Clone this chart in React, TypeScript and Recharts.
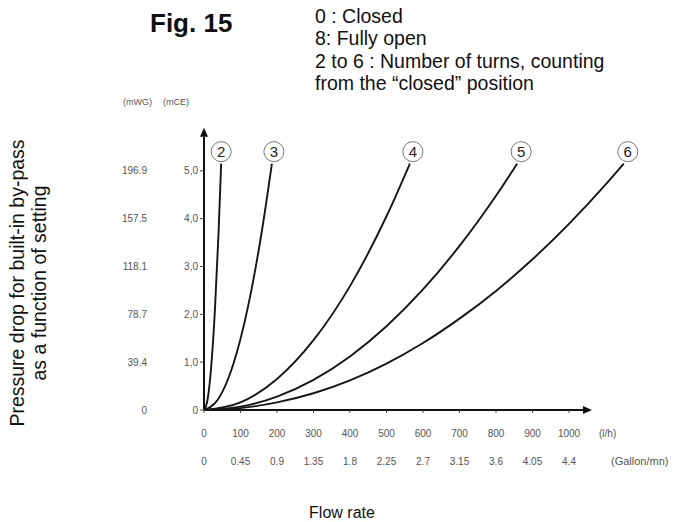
import React from 'react';
import { LineChart, Line, XAxis, YAxis, ReferenceLine } from 'recharts';

// Flow rate ticks (l/h) and matching Gallon/mn labels
const flowTicks = [0, 100, 200, 300, 400, 500, 600, 700, 800, 900, 1000];
const gallonLabels = ['0', '0.45', '0.9', '1.35', '1.8', '2.25', '2.7', '3.15', '3.6', '4.05', '4.4'];

// Pressure ticks (mCE) and matching mWG labels
const mceTicks = [0, 1, 2, 3, 4, 5];
const mceLabels = ['0', '1,0', '2,0', '3,0', '4,0', '5,0'];
const mwgLabels = ['0', '39.4', '78.7', '118.1', '157.5', '196.9'];

// Setting curves: flow (l/h) vs pressure drop (mCE)
const setting2Flow = [0, 10, 20, 30, 40, 47];
const setting2Drop = [0, 0.23, 0.93, 2.1, 3.73, 5.15];
const setting3Flow = [0, 40, 80, 120, 160, 186];
const setting3Drop = [0, 0.24, 0.95, 2.14, 3.81, 5.15];
const setting4Flow = [0, 100, 200, 300, 400, 500, 564];
const setting4Drop = [0, 0.16, 0.65, 1.46, 2.59, 4.05, 5.15];
const setting5Flow = [0, 100, 200, 300, 400, 500, 600, 700, 800, 858];
const setting5Drop = [0, 0.07, 0.28, 0.63, 1.12, 1.75, 2.52, 3.43, 4.48, 5.15];
const setting6Flow = [0, 100, 200, 300, 400, 500, 600, 700, 800, 900, 1000, 1100, 1150];
const setting6Drop = [0, 0.04, 0.16, 0.35, 0.62, 0.97, 1.4, 1.91, 2.49, 3.15, 3.89, 4.71, 5.15];

const settingNames = ['2', '3', '4', '5', '6'];
const settingFlows = [setting2Flow, setting3Flow, setting4Flow, setting5Flow, setting6Flow];
const settingDrops = [setting2Drop, setting3Drop, setting4Drop, setting5Drop, setting6Drop];

const noteLines = [
  '0 : Closed',
  '8: Fully open',
  '2 to 6 : Number of turns, counting',
  'from the \u201Cclosed\u201D position',
];

const labelDx = [0, 2, 3, 4, 4];
const FONT = '"Liberation Sans", Arial, sans-serif';
const TICK_FILL = '#555';

const series = settingNames.map((name, i) =>
  settingFlows[i].map((q, j) => ({ q, dp: settingDrops[i][j] }))
);

const XTick = (props: any) => {
  const { x, payload } = props;
  const idx = flowTicks.indexOf(payload.value);
  return (
    <g fontFamily={FONT} fontSize={10} fill={TICK_FILL}>
      <text x={x} y={437} textAnchor="middle" fill={TICK_FILL}>{String(payload.value)}</text>
      <text x={x} y={465} textAnchor="middle" fill={TICK_FILL}>{gallonLabels[idx]}</text>
      {payload.value === 1000 ? (
        <>
          <text x={x + 30} y={437} textAnchor="start" fill={TICK_FILL}>(l/h)</text>
          <text x={x + 42} y={465} textAnchor="start" fill={TICK_FILL} fontSize={11}>(Gallon/mn)</text>
        </>
      ) : null}
    </g>
  );
};

const YTick = (props: any) => {
  const { x, y, payload } = props;
  const idx = mceTicks.indexOf(payload.value);
  return (
    <g fontFamily={FONT} fontSize={10}>
      <text x={x} y={y + 3.5} textAnchor="end" fill={TICK_FILL}>{mceLabels[idx]}</text>
      <text x={x - 51} y={y + 3.5} textAnchor="end" fill={TICK_FILL}>{mwgLabels[idx]}</text>
    </g>
  );
};

const ArrowLine = (p: any) => {
  const { x1, y1, x2, y2 } = p;
  const ang = Math.atan2(y2 - y1, x2 - x1);
  const L = 9;
  const W = 4;
  const bx = x2 - L * Math.cos(ang);
  const by = y2 - L * Math.sin(ang);
  const px = -Math.sin(ang) * W;
  const py = Math.cos(ang) * W;
  return (
    <g>
      <line x1={x1} y1={y1} x2={bx} y2={by} stroke="#111" strokeWidth={2} />
      <polygon points={`${x2},${y2} ${bx + px},${by + py} ${bx - px},${by - py}`} fill="#111" />
    </g>
  );
};

const makeCircleLabel = (i: number) => (props: any) => {
  const n = series[i].length;
  const last = series[i][n - 1].dp;
  const isLast = props.index === n - 1 || Number(props.value) === last;
  if (!isLast) return <g />;
  const px = props.x ?? props.viewBox?.x;
  const py = props.y ?? props.viewBox?.y;
  const cx = px + labelDx[i];
  const cy = py - 12;
  return (
    <g>
      <circle cx={cx} cy={cy} r={10} fill="#fff" stroke="#777" strokeWidth={1} />
      <text x={cx} y={cy + 5.5} textAnchor="middle" fontFamily={FONT} fontSize={15} fill="#222">
        {settingNames[i]}
      </text>
    </g>
  );
};

export default function App() {
  return (
    <div style={{ position: 'absolute', left: 0, top: 0, width: 695, height: 522, background: '#fff' }}>
      <LineChart width={695} height={522} margin={{ top: 123, right: 53, bottom: 52, left: 84 }}>
        <XAxis
          dataKey="q"
          type="number"
          domain={[0, 1200]}
          ticks={flowTicks}
          interval={0}
          tick={<XTick />}
          axisLine={false}
          tickLine={{ stroke: '#444' }}
          tickSize={3}
          height={60}
        />
        <YAxis
          type="number"
          domain={[0, 6]}
          ticks={mceTicks}
          interval={0}
          tick={<YTick />}
          axisLine={false}
          tickLine={{ stroke: '#444' }}
          tickSize={4}
          width={120}
        />
        <ReferenceLine segment={[{ x: 0, y: 0 }, { x: 1063, y: 0 }]} shape={ArrowLine} />
        <ReferenceLine segment={[{ x: 0, y: 0 }, { x: 0, y: 5.9 }]} shape={ArrowLine} />
        {series.map((d, i) => (
          <Line
            key={settingNames[i]}
            data={d}
            dataKey="dp"
            type="monotone"
            stroke="#151515"
            strokeWidth={1.9}
            dot={false}
            isAnimationActive={false}
            label={makeCircleLabel(i)}
          />
        ))}
      </LineChart>
      <svg width={695} height={522} style={{ position: 'absolute', left: 0, top: 0, pointerEvents: 'none' }}>
        <text x={150} y={32} fontFamily={FONT} fontWeight="bold" fontSize={26} fill="#111">Fig. 15</text>
        {noteLines.map((t, i) => (
          <text key={i} x={315} y={23 + i * 22.4} fontFamily={FONT} fontSize={19.5} fill="#111">{t}</text>
        ))}
        <text x={123} y={105} fontFamily={FONT} fontSize={9} fill={TICK_FILL}>(mWG)</text>
        <text x={163} y={105} fontFamily={FONT} fontSize={9} fill={TICK_FILL}>(mCE)</text>
        <g transform="translate(24,283) rotate(-90)">
          <text x={0} y={0} textAnchor="middle" fontFamily={FONT} fontSize={19.5} fill="#111">
            Pressure drop for built-in by-pass
          </text>
        </g>
        <g transform="translate(46,283) rotate(-90)">
          <text x={0} y={0} textAnchor="middle" fontFamily={FONT} fontSize={19.5} fill="#111">
            as a function of setting
          </text>
        </g>
        <text x={342} y={518} textAnchor="middle" fontFamily={FONT} fontSize={16} fill="#111">Flow rate</text>
      </svg>
    </div>
  );
}
